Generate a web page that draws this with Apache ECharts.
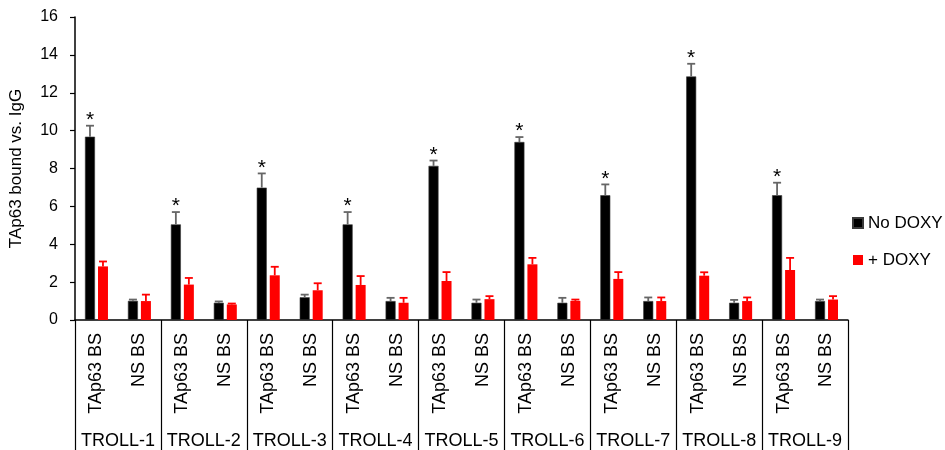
<!DOCTYPE html>
<html>
<head>
<meta charset="utf-8">
<script src="https://cdn.jsdelivr.net/npm/echarts@6/dist/echarts.min.js"></script>
<style>
  html, body { margin: 0; padding: 0; background: #fff; }
  #chart { width: 945px; height: 450px; }
</style>
</head>
<body>
<div id="chart"></div>
<script>
// TAp63 ChIP enrichment at binding sites (BS) vs non-specific sites (NS) for each TROLL locus
const groups = ['TROLL-1', 'TROLL-2', 'TROLL-3', 'TROLL-4', 'TROLL-5', 'TROLL-6', 'TROLL-7', 'TROLL-8', 'TROLL-9'];
const sites = ['TAp63 BS', 'NS BS'];

const noDoxy      = [9.68, 1.01, 5.05, 0.91, 6.99, 1.20, 5.05, 1.00, 8.14, 0.91, 9.40, 0.91, 6.59, 1.00, 12.86, 0.91, 6.59, 1.00];
const noDoxyErr   = [0.58, 0.07, 0.65, 0.07, 0.75, 0.14, 0.65, 0.17, 0.28, 0.17, 0.26, 0.26, 0.57, 0.19, 0.67, 0.15, 0.66, 0.08];
const plusDoxy    = [2.83, 1.00, 1.87, 0.82, 2.36, 1.57, 1.85, 0.91, 2.06, 1.10, 2.94, 1.01, 2.17, 1.00, 2.34, 1.00, 2.64, 1.08];
const plusDoxyErr = [0.26, 0.34, 0.35, 0.05, 0.45, 0.37, 0.47, 0.26, 0.47, 0.16, 0.34, 0.07, 0.36, 0.19, 0.18, 0.19, 0.64, 0.18];
const significant = [1, 0, 1, 0, 1, 0, 1, 0, 1, 0, 1, 0, 1, 0, 1, 0, 1, 0];

const yTicks = { min: 0, max: 16, interval: 2 };

const FONT = 'Liberation Sans, Arial, Helvetica, sans-serif';
const BAR_W = 10;
const BAR_GAP = 0.3;

// one category per (locus, site) pair
const categories = [];
groups.forEach(() => sites.forEach(s => categories.push(s)));

function errorData(vals, errs, stars) {
  return vals.map((v, i) => [i, v, errs[i], stars ? stars[i] : 0]);
}

function makeErrorRender(seriesPos, color) {
  // seriesPos: -1 for the left bar in each pair, +1 for the right bar
  return function (params, api) {
    const i = api.value(0);
    const v = api.value(1);
    const e = api.value(2);
    const star = api.value(3);
    const shift = seriesPos * (BAR_W + BAR_W * BAR_GAP) / 2;
    const base = api.coord([i, v]);
    const top = api.coord([i, v + e]);
    const x = base[0] + shift;
    const capHalf = 4;
    const style = { stroke: color, lineWidth: 1.8 };
    const children = [
      { type: 'line', shape: { x1: x, y1: base[1], x2: x, y2: top[1] }, style: style },
      { type: 'line', shape: { x1: x - capHalf, y1: top[1], x2: x + capHalf, y2: top[1] }, style: style }
    ];
    if (star) {
      children.push({
        type: 'text',
        style: {
          text: '*', x: x, y: top[1] + 5,
          align: 'center', verticalAlign: 'bottom',
          font: '21px ' + FONT, fill: '#000'
        }
      });
    }
    return { type: 'group', children: children };
  };
}

const chart = echarts.init(document.getElementById('chart'), null, { renderer: 'canvas' });

chart.setOption({
  animation: false,
  backgroundColor: '#ffffff',
  textStyle: { fontFamily: FONT },
  grid: { left: 72, right: 97, top: 17, bottom: 128, containLabel: false },
  legend: {
    data: ['No DOXY', '+ DOXY'],
    orient: 'vertical',
    left: 852,
    top: 214,
    padding: 0,
    itemWidth: 10,
    itemHeight: 10,
    itemGap: 19,
    icon: 'rect',
    textStyle: { fontSize: 17, color: '#000', fontFamily: FONT, lineHeight: 18 }
  },
  xAxis: [
    {
      type: 'category',
      data: categories,
      position: 'bottom',
      axisLine: { show: true, lineStyle: { color: '#000', width: 1.5 } },
      axisTick: { show: false },
      axisLabel: {
        interval: 0, rotate: 90, margin: 13,
        fontSize: 18, color: '#000', fontFamily: FONT
      }
    },
    {
      type: 'category',
      data: groups,
      position: 'bottom',
      axisLine: { show: false },
      axisTick: { show: true, interval: 0, length: 130, lineStyle: { color: '#000', width: 1.2 } },
      axisLabel: {
        interval: 0, margin: 112,
        fontSize: 18, color: '#000', fontFamily: FONT
      }
    }
  ],
  yAxis: {
    type: 'value',
    min: yTicks.min, max: yTicks.max, interval: yTicks.interval,
    name: 'TAp63 bound vs. IgG',
    nameLocation: 'middle',
    nameRotate: 90,
    nameGap: 50,
    nameTextStyle: { fontSize: 17, color: '#000', fontFamily: FONT },
    axisLine: { show: true, lineStyle: { color: '#000', width: 1.5 } },
    axisTick: { show: true, length: 5, lineStyle: { color: '#000', width: 1.2 } },
    axisLabel: { fontSize: 16, color: '#000', margin: 17, fontFamily: FONT },
    splitLine: { show: false }
  },
  series: [
    {
      name: 'No DOXY', type: 'bar', xAxisIndex: 0,
      data: noDoxy, barWidth: BAR_W, barGap: (BAR_GAP * 100) + '%',
      itemStyle: { color: '#000000', borderColor: '#3a3a3a', borderWidth: 0.6 }
    },
    {
      name: '+ DOXY', type: 'bar', xAxisIndex: 0,
      data: plusDoxy, barWidth: BAR_W, barGap: (BAR_GAP * 100) + '%',
      itemStyle: { color: '#ff0000' }
    },
    {
      name: 'No DOXY error', type: 'custom', xAxisIndex: 0,
      data: errorData(noDoxy, noDoxyErr, significant),
      encode: { x: 0, y: 1 },
      renderItem: makeErrorRender(-1, '#666666'),
      z: 5
    },
    {
      name: '+ DOXY error', type: 'custom', xAxisIndex: 0,
      data: errorData(plusDoxy, plusDoxyErr, null),
      encode: { x: 0, y: 1 },
      renderItem: makeErrorRender(1, '#ff0000'),
      z: 5
    }
  ]
});
</script>
</body>
</html>
